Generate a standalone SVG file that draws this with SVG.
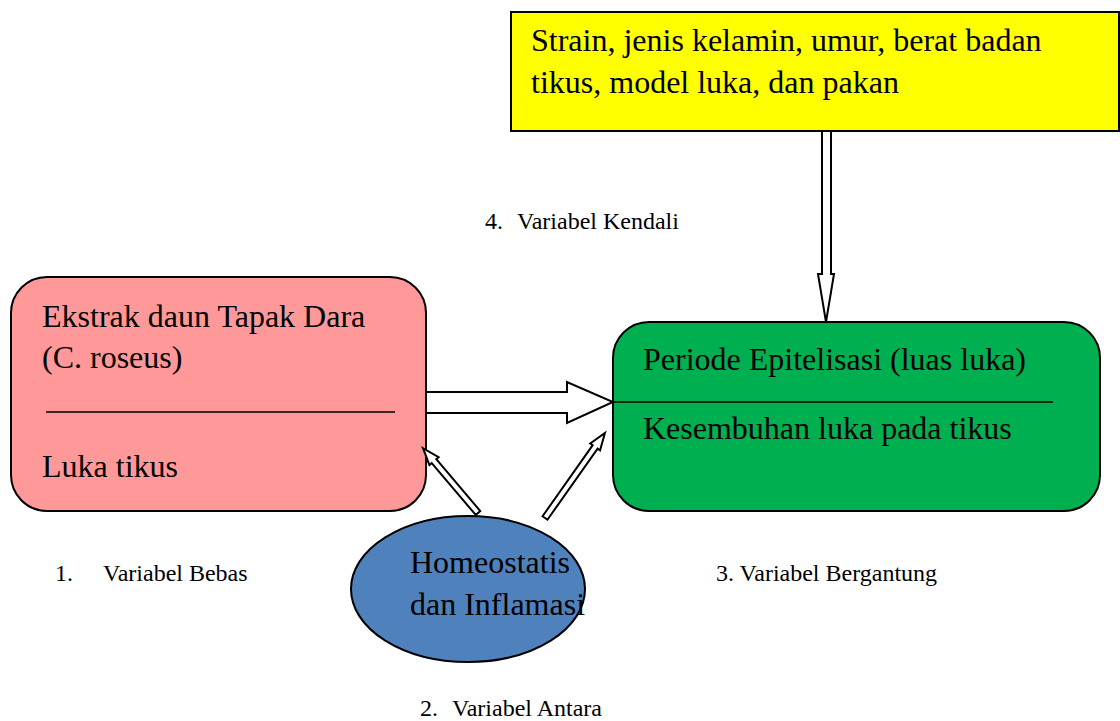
<svg xmlns="http://www.w3.org/2000/svg" width="1120" height="721" viewBox="0 0 1120 721">
<style>
.big{font-family:"Liberation Serif","Times New Roman",serif;font-size:32px;fill:#000}
.small{font-family:"Liberation Serif","Times New Roman",serif;font-size:24px;fill:#000}
.box{stroke:#000;stroke-width:2}
.arrow{fill:#fff;stroke:#000;stroke-width:2;stroke-linejoin:miter}
</style>
<rect width="1120" height="721" fill="#fff"/>
<g id="kendali">
<rect class="box" x="511" y="12" width="608" height="119" fill="#ffff00"/>
<text class="big" x="531" y="51">Strain, jenis kelamin, umur, berat badan</text>
<text class="big" x="531" y="93">tikus, model luka, dan pakan</text>
</g>
<g id="bebas">
<rect class="box" x="11" y="277" width="415" height="234" rx="36" fill="#ff9999"/>
<text class="big" x="42" y="327">Ekstrak daun Tapak Dara</text>
<text class="big" x="42" y="368">(C. roseus)</text>
<line x1="46" y1="412" x2="395" y2="412" stroke="#000" stroke-width="1.5"/>
<text class="big" x="42" y="477">Luka tikus</text>
</g>
<g id="bergantung">
<rect class="box" x="613" y="322" width="487" height="189" rx="36" fill="#00b050"/>
<text class="big" x="643" y="370">Periode Epitelisasi (luas luka)</text>
<line x1="613" y1="402" x2="1053" y2="402" stroke="#000" stroke-width="1.5"/>
<text class="big" x="643" y="439">Kesembuhan luka pada tikus</text>
</g>
<g id="antara">
<ellipse class="box" cx="468" cy="589" rx="117" ry="73" fill="#4f81bd"/>
<text class="big" x="410" y="573">Homeostatis</text>
<text class="big" x="410" y="615">dan Inflamasi</text>
</g>
<g id="labels">
<text class="small" y="229"><tspan x="485">4.</tspan><tspan x="517">Variabel Kendali</tspan></text>
<text class="small" y="581"><tspan x="55">1.</tspan><tspan x="103">Variabel Bebas</tspan></text>
<text class="small" x="716" y="581">3. Variabel Bergantung</text>
<text class="small" y="716"><tspan x="420">2.</tspan><tspan x="452">Variabel Antara</tspan></text>
</g>
<g id="connectors">
<polygon class="arrow" points="426,392 567,392 567,382 613,402 567,423 567,413 426,413"/>
<polygon class="arrow" points="822,131 831,131 831,274 834,274 826,322 818,274 822,274"/>
<g transform="translate(478,513) rotate(229.7)">
<polygon class="arrow" points="0,-3 68,-3 68,-6 85,0 68,6 68,3 0,3"/>
</g>
<g transform="translate(545,518) rotate(-54.8)">
<polygon class="arrow" points="0,-3 87,-3 87,-6 104,0 87,6 87,3 0,3"/>
</g>
</g>
</svg>
